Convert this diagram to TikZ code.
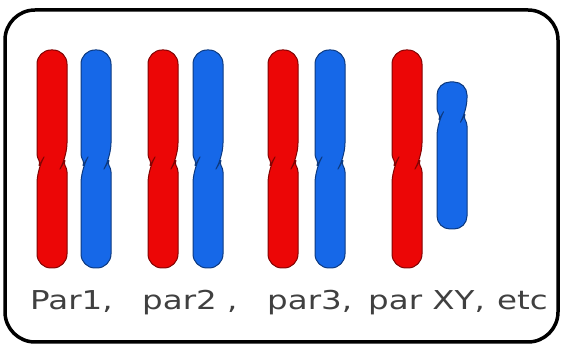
\documentclass[tikz,border=0pt]{standalone}
\usepackage{fontspec}
\newfontfamily\handfont[FakeStretch=1.25]{DejaVu Sans}
\definecolor{chromred}{RGB}{236,6,6}
\definecolor{chromblue}{RGB}{22,104,232}
\begin{document}
\begin{tikzpicture}[x=1pt, y=-1pt,
    frame/.style = {draw, rectangle, rounded corners=30pt, line width=3.5pt, inner sep=0pt},
    chrom/.style = {line width=1pt, line join=round},
    label/.style = {anchor=base west, inner sep=0pt, font=\handfont\fontsize{26}{30}\selectfont, text=black!75}]

      \useasboundingbox (0,0) rectangle (574,358);

      \node[frame, minimum width=553pt, minimum height=332pt] (cell) at (281.5,176) {};

      % autosomes: centre / colour
      \foreach \c/\col in {52/chromred, 96/chromblue, 163/chromred, 208/chromblue, 283/chromred, 330/chromblue, 407/chromred}
        \filldraw[chrom, fill=\col, draw=\col!55!black]
          [rounded corners=14pt] (\c-15,157) -- (\c-15,50) -- (\c+15,50) -- (\c+15,157)
          [rounded corners=3pt] -- (\c+11.5,163) -- (\c+15,169)
          [rounded corners=14pt] -- (\c+15,268) -- (\c-15,268) -- (\c-15,169)
          [rounded corners=3pt] -- (\c-11.5,163) -- cycle;

      % Y chromosome
      \filldraw[chrom, fill=chromblue, draw=chromblue!55!black]
        [rounded corners=13pt] (437,111) -- (437,82) -- (467,82) -- (467,111)
        [rounded corners=3pt] -- (463.5,117) -- (467,123)
        [rounded corners=13pt] -- (467,229) -- (437,229) -- (437,123)
        [rounded corners=3pt] -- (440.5,117) -- cycle;

      \node[label] (par1) at (30,310) {Par1,};
      \node[label] (par2) at (142,310) {par2 ,};
      \node[label] (par3) at (267,310) {par3,};
      \node[label] (parXY) at (368,310) {par XY,};
      \node[label] (etc) at (497,310) {etc};

\end{tikzpicture}
\end{document}
